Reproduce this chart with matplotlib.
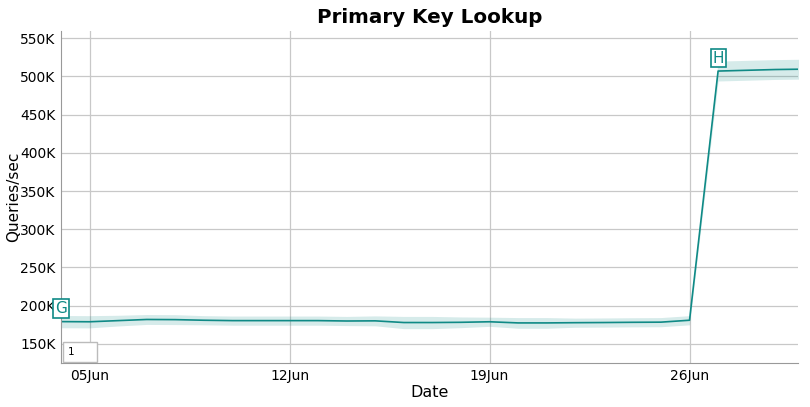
import numpy as np
import pandas as pd
import matplotlib
matplotlib.use('Agg')
import matplotlib.pyplot as plt
import matplotlib.dates as mdates
from matplotlib.patches import Rectangle

# valeurs (K requetes/s)
dates = pd.date_range('2016-06-04', '2016-06-30', freq='D')
qps = [179.2, 179.0, 180.5, 182.0, 181.8, 181.0, 180.5, 180.5, 180.5, 180.5,
       180.0, 180.2, 178.0, 178.0, 178.3, 179.0, 177.5, 177.5, 177.8, 178.0,
       178.3, 178.5, 181.0, 507.0, 508.0, 509.0, 509.5]
spread = [8.0, 8.0, 7.0, 6.5, 6.5, 6.0, 6.0, 6.0, 6.0, 6.0,
          6.0, 6.5, 8.0, 8.0, 7.0, 6.0, 7.0, 7.0, 6.0, 6.0,
          6.0, 6.0, 6.0, 13.0, 13.0, 13.0, 13.0]
yticks = [150, 200, 250, 300, 350, 400, 450, 500, 550]
annotations = [('G', '2016-06-04', 196.0), ('H', '2016-06-27', 524.0)]

teal = '#0f8a86'

qps = np.array(qps) * 1000
spread = np.array(spread) * 1000

fig = plt.figure(figsize=(8.1, 4.07), dpi=100)
ax = fig.add_axes([0.0753, 0.108, 0.9097, 0.816])

ax.fill_between(dates, qps - spread, qps + spread, color=teal, alpha=0.17, linewidth=0)
ax.plot(dates, qps, color=teal, linewidth=1.2)

for lab, d, v in annotations:
    ax.text(pd.Timestamp(d), v * 1000, lab, color=teal, fontsize=11, ha='center', va='center',
            bbox=dict(boxstyle='square,pad=0.12', fc='white', ec=teal, lw=1.2))

ax.set_xlim(pd.Timestamp('2016-06-04'), pd.Timestamp('2016-06-29 19:00'))
ax.set_ylim(125000, 559500)
ax.set_yticks([t * 1000 for t in yticks])
ax.set_yticklabels(['%dK' % t for t in yticks])
ax.xaxis.set_major_locator(mdates.DayLocator(bymonthday=[5, 12, 19, 26]))
ax.xaxis.set_major_formatter(mdates.DateFormatter('%d%b'))

ax.grid(color='#c8c8c8', linewidth=0.9)
ax.set_axisbelow(True)
for s in ['top', 'right']:
    ax.spines[s].set_visible(False)
for s in ['left', 'bottom']:
    ax.spines[s].set_color('#999999')
ax.tick_params(length=0, labelsize=10, pad=4)

ax.set_title('Primary Key Lookup', fontsize=14.3, fontweight='bold', pad=6)
ax.set_xlabel('Date', fontsize=11.5, labelpad=2)
ax.set_ylabel('Queries/sec', fontsize=11, labelpad=0)
ax.yaxis.set_label_coords(-0.054, 0.5)

# petite boite "1" en bas a gauche
ax.add_patch(Rectangle((0.003, 0.003), 0.046, 0.06, transform=ax.transAxes,
                       fc='white', ec='#bbbbbb', lw=1, zorder=5))
ax.text(0.009, 0.033, '1', transform=ax.transAxes, fontsize=7.5, ha='left', va='center', zorder=6)

fig.savefig('out.png', dpi=100)
